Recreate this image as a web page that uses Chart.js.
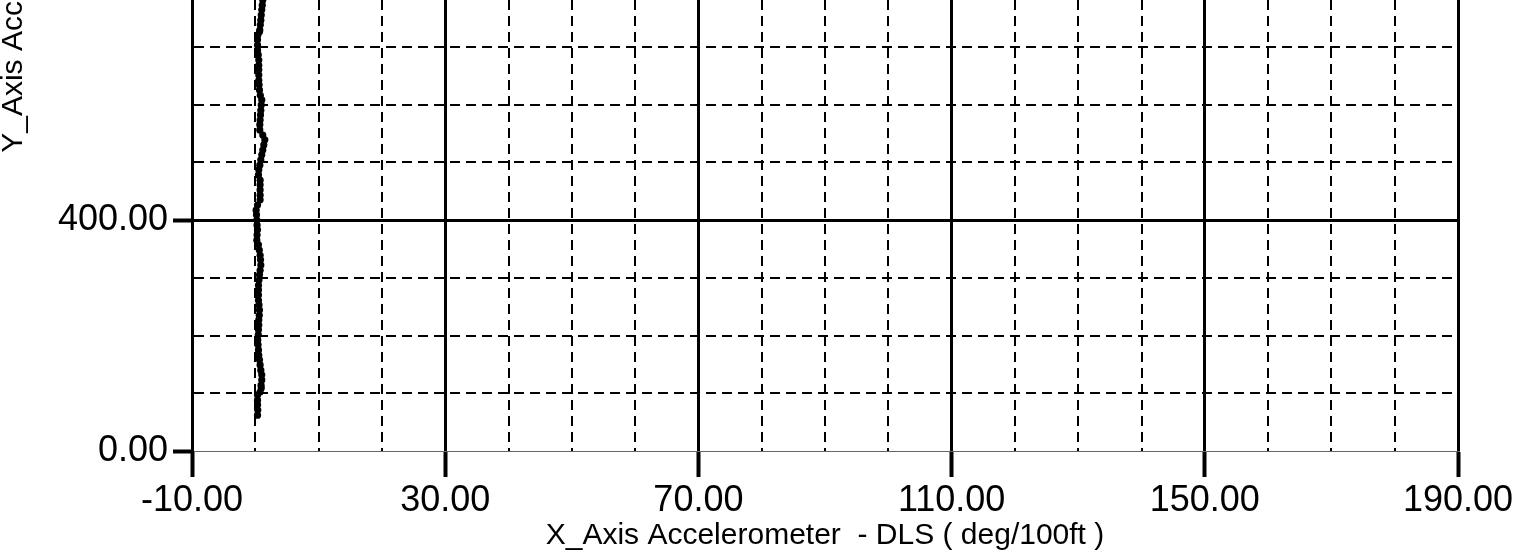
<!DOCTYPE html>
<html>
<head>
<meta charset="utf-8">
<script src="https://cdn.jsdelivr.net/npm/chart.js@4/dist/chart.umd.min.js"></script>
<style>
  html, body { margin: 0; padding: 0; background: #fff; overflow: hidden; }
  #wrap { position: absolute; left: 0; top: -760px; width: 1521px; height: 1320px; }
</style>
</head>
<body>
<div id="wrap"><canvas id="dlsChart"></canvas></div>
<script>
var depthValues = [62, 71, 80, 88, 97, 102, 109, 114, 123, 132, 140, 149, 158, 166, 175,
  184, 192, 201, 210, 218, 227, 235, 244, 253, 261, 270, 279, 287, 296, 305,
  313, 322, 331, 339, 348, 357, 365, 374, 383, 391, 400, 409, 417, 426, 435,
  443, 452, 461, 469, 478, 487, 495, 504, 513, 521, 530, 539, 547, 556, 565,
  573, 582, 590, 599, 608, 616, 625, 634, 642, 651, 660, 668, 677, 686, 694,
  703, 712, 720, 726, 729, 738, 746, 755, 764, 772, 781, 790, 798];
var dlsValues = [0.35, 0.39, 0.36, 0.35, 0.35, 0.76, 0.94, 0.91, 1.02, 1.02, 0.87, 0.76, 0.66, 0.55, 0.50,
  0.44, 0.39, 0.47, 0.50, 0.55, 0.55, 0.63, 0.66, 0.58, 0.50, 0.50, 0.50, 0.50, 0.58, 0.66,
  0.76, 0.87, 0.82, 0.76, 0.63, 0.50, 0.24, 0.28, 0.35, 0.28, 0.24, 0.19, 0.13, 0.35, 0.76,
  0.76, 0.76, 0.76, 0.76, 0.50, 0.55, 0.71, 0.87, 1.02, 1.18, 1.34, 1.50, 1.18, 0.71, 0.71,
  0.76, 0.82, 0.87, 0.94, 1.02, 0.79, 0.66, 0.60, 0.55, 0.55, 0.55, 0.55, 0.55, 0.47, 0.35,
  0.35, 0.35, 0.39, 0.66, 0.71, 0.79, 0.87, 0.94, 1.02, 1.10, 1.18, 1.25, 1.30];

var xTickLabels = ["-10.00", "30.00", "70.00", "110.00", "150.00", "190.00"];
var yTickLabels = ["0.00", "400.00", "800.00", "1200.00", "1600.00", "2000.00"];

var points = dlsValues.map(function (v, i) {
  return { x: v, y: depthValues[i] };
});

function xMajor(v) { return (v + 10) % 40 === 0; }
function yMajor(v) { return v % 400 === 0; }

var tickFont = { family: "'Liberation Sans', Arial, sans-serif", size: 36 };
var titleFont = { family: "'Liberation Sans', Arial, sans-serif", size: 30 };

var ctx = document.getElementById("dlsChart").getContext("2d");
var dlsChart = new Chart(ctx, {
  type: "scatter",
  data: {
    datasets: [
      {
        data: points,
        showLine: true,
        borderColor: "#000",
        borderWidth: 3,
        backgroundColor: "#000",
        pointRadius: 3.6,
        pointBorderWidth: 0,
      },
    ],
  },
  options: {
    responsive: true,
    maintainAspectRatio: false,
    animation: false,
    layout: { padding: { top: 56, right: 63, left: 0, bottom: 0 } },
    plugins: { legend: { display: false }, tooltip: { enabled: false } },
    scales: {
      x: {
        type: "linear",
        min: -10,
        max: 190,
        afterFit: function (scale) { scale.height = 109; },
        ticks: {
          stepSize: 10,
          autoSkip: false,
          maxRotation: 0,
          padding: 2,
          color: "#000",
          font: tickFont,
          callback: function (v) {
            return xMajor(v) ? xTickLabels[(v + 10) / 40] : "";
          },
        },
        grid: {
          color: "#000",
          lineWidth: function (c) { return xMajor(c.tick.value) ? 3 : 2; },
          tickLength: 26,
          tickWidth: 4,
          tickColor: function (c) { return xMajor(c.tick.value) ? "#000" : "rgba(0,0,0,0)"; },
        },
        border: {
          color: "#666",
          width: 1,
          dash: function (c) { return c.tick && !xMajor(c.tick.value) ? [10, 6] : []; },
        },
        title: {
          display: true,
          text: "X_Axis Accelerometer  - DLS ( deg/100ft )",
          color: "#000",
          font: titleFont,
          padding: { top: 0, bottom: 6 },
        },
      },
      y: {
        type: "linear",
        min: 0,
        max: 2000,
        afterFit: function (scale) { scale.width = 192; },
        ticks: {
          stepSize: 100,
          autoSkip: false,
          padding: 5,
          color: "#000",
          font: tickFont,
          callback: function (v) {
            return yMajor(v) ? yTickLabels[v / 400] : "";
          },
        },
        grid: {
          color: function (c) { return c.tick.value === 0 ? "#666" : "#000"; },
          lineWidth: function (c) {
            if (c.tick.value === 0) return 1;
            return yMajor(c.tick.value) ? 3 : 2;
          },
          tickLength: 19,
          tickWidth: 4,
          tickColor: function (c) { return yMajor(c.tick.value) ? "#000" : "rgba(0,0,0,0)"; },
        },
        border: {
          color: "#000",
          width: 3,
          dash: function (c) { return c.tick && !yMajor(c.tick.value) ? [10, 6] : []; },
        },
        title: {
          display: true,
          text: "Y_Axis Accelerometer  - DLS ( deg/100ft )",
          color: "#000",
          font: titleFont,
          padding: { top: -4, bottom: 4 },
        },
      },
    },
  },
});
</script>
</body>
</html>
